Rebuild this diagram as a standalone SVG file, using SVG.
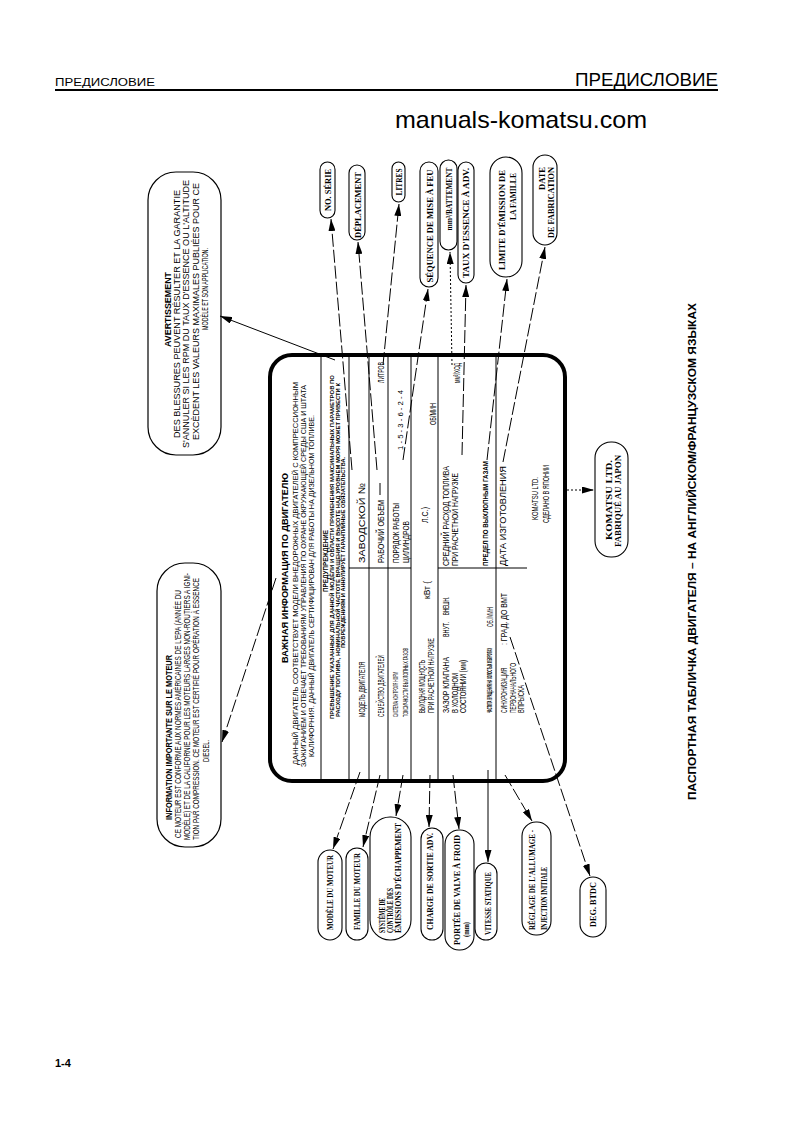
<svg xmlns="http://www.w3.org/2000/svg" width="793" height="1123" viewBox="0 0 793 1123">
<style>
text{font-family:"Liberation Sans",Arial,sans-serif;fill:#000}
.b{font-weight:bold}
.sf{font-family:"Liberation Serif","Times New Roman",serif;font-weight:bold;font-size:8.5px}
.bub{fill:#fff;stroke:#000;stroke-width:1.1}
.box{fill:#fff;stroke:#000;stroke-width:1.2}
.plate{fill:#fff;stroke:#000;stroke-width:4}
.rl{stroke:#000;stroke-width:1;fill:none}
.cn{stroke:#000;stroke-width:1;fill:none;stroke-dasharray:13 3}
.cs{stroke:#000;stroke-width:1;fill:none}
.cd{stroke:#000;stroke-width:1;fill:none;stroke-dasharray:2 2}
.f9{font-size:9px}.f8{font-size:9.5px}.f7{font-size:7.5px}.f6{font-size:7px}.f5{font-size:5.5px}.fs{font-size:7.5px}
</style>
<defs>
<marker id="ah" markerUnits="userSpaceOnUse" markerWidth="12" markerHeight="7" refX="12" refY="3.5" orient="auto" viewBox="0 0 12 7"><path d="M0,0L12,3.5L0,7z" fill="#000"/></marker>
</defs>
<rect width="793" height="1123" fill="#fff"/>
<g id="header">
<text x="55" y="86" font-size="11" textLength="100" lengthAdjust="spacingAndGlyphs">ПРЕДИСЛОВИЕ</text>
<text x="575" y="86" font-size="18" textLength="143" lengthAdjust="spacingAndGlyphs">ПРЕДИСЛОВИЕ</text>
<line x1="55" y1="90" x2="718" y2="90" stroke="#000" stroke-width="2"/>
<text x="395" y="128" font-size="24" textLength="252" lengthAdjust="spacingAndGlyphs">manuals-komatsu.com</text>
<text x="55" y="1067" font-size="11" class="b">1-4</text>
</g>
<g transform="translate(0,1123) rotate(-90)">
<g id="caption"><text x="323" y="696" class="b" font-size="10" textLength="497" lengthAdjust="spacingAndGlyphs">ПАСПОРТНАЯ ТАБЛИЧКА ДВИГАТЕЛЯ – НА АНГЛИЙСКОМ/ФРАНЦУЗСКОМ ЯЗЫКАХ</text></g>
<g id="avertissement">
<rect class="box" x="668" y="148" width="283" height="73" rx="28"/>
<text x="776" y="171" class="b f9" textLength="75" lengthAdjust="spacingAndGlyphs">AVERTISSEMENT</text>
<text x="685" y="179.5" class="f9" textLength="248" lengthAdjust="spacingAndGlyphs">DES BLESSURES PEUVENT RÉSULTER ET LA GARANTIE</text>
<text x="675" y="189" class="f9" textLength="268" lengthAdjust="spacingAndGlyphs">S'ANNULER SI LES RPM DU TAUX D'ESSENCE OU L'ALTITUDE</text>
<text x="683" y="198.5" class="f9" textLength="257" lengthAdjust="spacingAndGlyphs">EXCÈDENT LES VALEURS MAXIMALES PUBLIÉES POUR CE</text>
<text x="793" y="208" class="f9" textLength="82" lengthAdjust="spacingAndGlyphs">MODÈLE ET SON APPLICATION.</text>
</g>
<g id="information">
<rect class="box" x="276" y="157" width="284" height="64" rx="28"/>
<text x="303" y="172" class="b f9" textLength="165" lengthAdjust="spacingAndGlyphs">INFORMATION IMPORTANTE SUR LE MOTEUR</text>
<text x="285" y="180.5" class="f9" textLength="248" lengthAdjust="spacingAndGlyphs">CE MOTEUR EST CONFORME AUX NORMES AMÉRICAINES DE L'EPA (ANNÉE DU</text>
<text x="283" y="189.5" class="f9" textLength="267" lengthAdjust="spacingAndGlyphs">MODÈLE) ET DE LA CALIFORNIE POUR LES MOTEURS LARGES NON-ROUTIERS A IGNI-</text>
<text x="283" y="198.5" class="f9" textLength="262" lengthAdjust="spacingAndGlyphs">TION PAR COMPRESSION. CE MOTEUR EST CERTIFIÉ POUR OPÉRATION À ESSENCE</text>
<text x="361" y="209" class="f9" textLength="22" lengthAdjust="spacingAndGlyphs">DIESEL.</text>
</g>
<g id="plate">
<rect class="plate" x="342" y="270" width="426" height="295" rx="22"/>
<text x="460" y="288" class="b f9" textLength="190" lengthAdjust="spacingAndGlyphs">ВАЖНАЯ ИНФОРМАЦИЯ ПО ДВИГАТЕЛЮ</text>
<text x="358" y="298" class="f7" textLength="383" lengthAdjust="spacingAndGlyphs">ДАННЫЙ ДВИГАТЕЛЬ СООТВЕТСТВУЕТ МОДЕЛИ ВНЕДОРОЖНЫХ ДВИГАТЕЛЕЙ С КОМПРЕССИОННЫМ</text>
<text x="356" y="306" class="f7" textLength="382" lengthAdjust="spacingAndGlyphs">ЗАЖИГАНИЕМ И ОТВЕЧАЕТ ТРЕБОВАНИЯМ УПРАВЛЕНИЯ ПО ОХРАНЕ ОКРУЖАЮЩЕЙ СРЕДЫ США И ШТАТА</text>
<text x="366" y="314" class="f7" textLength="342" lengthAdjust="spacingAndGlyphs">КАЛИФОРНИЯ. ДАННЫЙ ДВИГАТЕЛЬ СЕРТИФИЦИРОВАН ДЛЯ РАБОТЫ НА ДИЗЕЛЬНОМ ТОПЛИВЕ.</text>
<line class="rl" x1="342" y1="321" x2="768" y2="321"/>
<text x="531" y="328" class="b" font-size="6.5" textLength="62" lengthAdjust="spacingAndGlyphs">ПРЕДУПРЕЖДЕНИЕ</text>
<text x="404" y="334" class="b f5" textLength="344" lengthAdjust="spacingAndGlyphs">ПРЕВЫШЕНИЕ УКАЗАННЫХ ДЛЯ ДАННОЙ МОДЕЛИ И ОБЛАСТИ ПРИМЕНЕНИЯ МАКСИМАЛЬНЫХ ПАРАМЕТРОВ ПО</text>
<text x="406" y="339.5" class="b f5" textLength="334" lengthAdjust="spacingAndGlyphs">РАСХОДУ ТОПЛИВА, НОМИНАЛЬНОЙ ЧАСТОТЕ ВРАЩЕНИЯ И ВЫСОТЕ НАД УРОВНЕМ МОРЯ МОЖЕТ ПРИВЕСТИ К</text>
<text x="475" y="345" class="b f5" textLength="191" lengthAdjust="spacingAndGlyphs">ПОВРЕЖДЕНИЯМ И АННУЛИРУЕТ ГАРАНТИЙНЫЕ ОБЯЗАТЕЛЬСТВА.</text>
<line class="rl" x1="342" y1="349" x2="768" y2="349"/>
<line class="rl" x1="342" y1="369" x2="768" y2="369"/>
<line class="rl" x1="342" y1="388" x2="768" y2="388"/>
<line class="rl" x1="342" y1="411" x2="768" y2="411"/>
<line class="rl" x1="342" y1="438" x2="768" y2="438"/>
<line class="rl" x1="342" y1="496" x2="768" y2="496"/>
<line class="rl" x1="555" y1="349" x2="555" y2="411"/>
<line class="rl" x1="555" y1="438" x2="555" y2="527"/>
<text x="406" y="365" class="f8" textLength="55" lengthAdjust="spacingAndGlyphs">МОДЕЛЬ ДВИГАТЕЛЯ</text>
<text x="560" y="365" class="f8" textLength="80" lengthAdjust="spacingAndGlyphs">ЗАВОДСКОЙ №</text>
<text x="406" y="384" class="f8" textLength="62" lengthAdjust="spacingAndGlyphs">СЕМЕЙСТВО ДВИГАТЕЛЕЙ</text>
<text x="560" y="384" class="f8" textLength="63" lengthAdjust="spacingAndGlyphs">РАБОЧИЙ ОБЪЕМ</text>
<line class="rl" x1="628" y1="380" x2="640" y2="380"/>
<text x="740" y="384" class="f8" textLength="21" lengthAdjust="spacingAndGlyphs">ЛИТРОВ</text>
<text x="406" y="398" class="fs" textLength="45" lengthAdjust="spacingAndGlyphs">СИСТЕМА КОНТРОЛЯ НОРМ</text>
<text x="406" y="407.5" class="fs" textLength="69" lengthAdjust="spacingAndGlyphs">ТОКСИЧНОСТИ ВЫХЛОПНЫХ ГАЗОВ</text>
<text x="560" y="398.5" class="f8" textLength="60" lengthAdjust="spacingAndGlyphs">ПОРЯДОК РАБОТЫ</text>
<text x="560" y="408.5" class="f8" textLength="42" lengthAdjust="spacingAndGlyphs">ЦИЛИНДРОВ</text>
<text x="673" y="403" class="f7" textLength="60" lengthAdjust="spacingAndGlyphs">1 - 5 - 3 - 6 - 2 - 4</text>
<text x="410" y="425" class="f8" textLength="53" lengthAdjust="spacingAndGlyphs">ВЫХОДНАЯ МОЩНОСТЬ</text>
<text x="410" y="434" class="f8" textLength="75" lengthAdjust="spacingAndGlyphs">ПРИ РАСЧЕТНОЙ НАГРУЗКЕ</text>
<text x="524" y="430" class="f8" textLength="18" lengthAdjust="spacingAndGlyphs">кВт (</text>
<text x="600" y="428" class="f8" textLength="16" lengthAdjust="spacingAndGlyphs">Л.С.)</text>
<text x="698" y="436" class="f8" textLength="22" lengthAdjust="spacingAndGlyphs">ОБ/МИН</text>
<text x="410" y="449" class="f8" textLength="56" lengthAdjust="spacingAndGlyphs">ЗАЗОР КЛАПАНА</text>
<text x="410" y="457.5" class="f8" textLength="40" lengthAdjust="spacingAndGlyphs">В ХОЛОДНОМ</text>
<text x="410" y="466" class="f8" textLength="53" lengthAdjust="spacingAndGlyphs">СОСТОЯНИИ (мм)</text>
<text x="486" y="449" class="f8" textLength="15" lengthAdjust="spacingAndGlyphs">ВНУТ.</text>
<text x="508" y="449" class="f8" textLength="18" lengthAdjust="spacingAndGlyphs">ВНЕШН.</text>
<text x="557" y="449" class="f8" textLength="100" lengthAdjust="spacingAndGlyphs">СРЕДНИЙ РАСХОД ТОПЛИВА</text>
<text x="557" y="458" class="f8" textLength="93" lengthAdjust="spacingAndGlyphs">ПРИ РАСЧЕТНОЙ НАГРУЗКЕ</text>
<text x="740" y="460" class="f8" textLength="20" lengthAdjust="spacingAndGlyphs">мм³/ХОД</text>
<text x="410" y="492" class="b f6" textLength="65" lengthAdjust="spacingAndGlyphs">ЧАСТОТА ВРАЩЕНИЯ НА ХОЛОСТЫХ ОБОРОТАХ</text>
<text x="496" y="493" class="f8" textLength="20" lengthAdjust="spacingAndGlyphs">ОБ./МИН</text>
<text x="557" y="488" class="b fs" textLength="105" lengthAdjust="spacingAndGlyphs">ПРЕДЕЛ ПО ВЫХЛОПНЫМ ГАЗАМ</text>
<text x="410" y="507" class="f8" textLength="45" lengthAdjust="spacingAndGlyphs">СИНХРОНИЗАЦИЯ</text>
<text x="410" y="515.5" class="f8" textLength="50" lengthAdjust="spacingAndGlyphs">ПЕРВОНАЧАЛЬНОГО</text>
<text x="410" y="524" class="f8" textLength="28" lengthAdjust="spacingAndGlyphs">ВПРЫСКА</text>
<text x="478" y="507" class="f8" textLength="52" lengthAdjust="spacingAndGlyphs">:  ГРАД. ДО ВМТ</text>
<text x="557" y="506" class="f8" textLength="100" lengthAdjust="spacingAndGlyphs">ДАТА ИЗГОТОВЛЕНИЯ</text>
<text x="603" y="538" class="f8" textLength="43" lengthAdjust="spacingAndGlyphs">KOMATSU LTD.</text>
<text x="600" y="549" class="f8" textLength="58" lengthAdjust="spacingAndGlyphs">СДЕЛАНО В ЯПОНИИ</text>
</g>
<g id="no-serie"><rect class="bub" x="905" y="320" width="56" height="15" rx="7.5"/><text class="sf" x="933" y="331" text-anchor="middle" textLength="42" lengthAdjust="spacingAndGlyphs">NO. SÉRIE</text></g>
<g id="deplacement"><rect class="bub" x="883" y="349" width="75" height="16" rx="8"/><text class="sf" x="918" y="361" text-anchor="middle" textLength="66" lengthAdjust="spacingAndGlyphs">DÉPLACEMENT</text></g>
<g id="litres"><rect class="bub" x="921" y="392" width="40" height="13" rx="6.5"/><text class="sf" x="941" y="402" text-anchor="middle" textLength="27" lengthAdjust="spacingAndGlyphs">LITRES</text></g>
<g id="sequence"><rect class="bub" x="836" y="420" width="125" height="18" rx="9"/><text class="sf" x="897" y="433" text-anchor="middle" textLength="113" lengthAdjust="spacingAndGlyphs">SÉQUENCE DE MISE À FEU</text></g>
<g id="mm3"><rect class="bub" x="873" y="440" width="90" height="17" rx="8.5"/><text class="sf" x="924" y="452" text-anchor="middle" textLength="63" lengthAdjust="spacingAndGlyphs">mm³/BATTEMENT</text></g>
<g id="taux"><rect class="bub" x="840" y="458" width="121" height="16" rx="8"/><text class="sf" x="900" y="469" text-anchor="middle" textLength="110" lengthAdjust="spacingAndGlyphs">TAUX D'ESSENCE À ADV.</text></g>
<g id="limite"><rect class="bub" x="846" y="490" width="120" height="32" rx="16"/><text class="sf" x="953" y="505" text-anchor="end" textLength="100" lengthAdjust="spacingAndGlyphs">LIMITE D'ÉMISSION DE</text><text class="sf" x="950" y="516" text-anchor="end" textLength="47" lengthAdjust="spacingAndGlyphs">LA FAMILLE</text></g>
<g id="date"><rect class="bub" x="878" y="533" width="90" height="24" rx="12"/><text class="sf" x="956" y="545" text-anchor="end" textLength="23" lengthAdjust="spacingAndGlyphs">DATE</text><text class="sf" x="956" y="554" text-anchor="end" textLength="71" lengthAdjust="spacingAndGlyphs">DE FABRICATION</text></g>
<g id="komatsu"><rect class="bub" x="566" y="595" width="115" height="33" rx="16"/><text class="sf" x="623" y="612" text-anchor="middle" textLength="80" lengthAdjust="spacingAndGlyphs">KOMATSU LTD.</text><text class="sf" x="622" y="621" text-anchor="middle" textLength="92" lengthAdjust="spacingAndGlyphs">FABRIQUÉ AU JAPON</text></g>
<g id="modele"><rect class="bub" x="183" y="318" width="90" height="24" rx="12"/><text class="sf" x="193" y="333" textLength="75" lengthAdjust="spacingAndGlyphs">MODÈLE DU MOTEUR</text></g>
<g id="famille"><rect class="bub" x="183" y="346" width="92" height="22" rx="11"/><text class="sf" x="193" y="360" textLength="77" lengthAdjust="spacingAndGlyphs">FAMILLE DU MOTEUR</text></g>
<g id="systeme"><rect class="bub" x="183" y="370" width="123" height="41" rx="20"/><text class="sf" x="190" y="385" textLength="35" lengthAdjust="spacingAndGlyphs">SYSTÈME DE</text><text class="sf" x="190" y="393" textLength="45" lengthAdjust="spacingAndGlyphs">CONTRÔLE DES</text><text class="sf" x="190" y="401" textLength="110" lengthAdjust="spacingAndGlyphs">ÉMISSIONS D'ÉCHAPPEMENT</text></g>
<g id="charge"><rect class="bub" x="183" y="421" width="112" height="22" rx="11"/><text class="sf" x="193" y="433" textLength="97" lengthAdjust="spacingAndGlyphs">CHARGE DE SORTIE ADV.</text></g>
<g id="portee"><rect class="bub" x="173" y="445" width="120" height="29" rx="14"/><text class="sf" x="178" y="460" textLength="110" lengthAdjust="spacingAndGlyphs">PORTÉE DE VALVE À FROID</text><text class="sf" x="186" y="469" textLength="15" lengthAdjust="spacingAndGlyphs">(mm)</text></g>
<g id="vitesse"><rect class="bub" x="183" y="475" width="77" height="22" rx="11"/><text class="sf" x="188" y="491" textLength="63" lengthAdjust="spacingAndGlyphs">VITESSE STATIQUE</text></g>
<g id="reglage"><rect class="bub" x="188" y="522" width="113" height="29" rx="14"/><text class="sf" x="193" y="535" textLength="100" lengthAdjust="spacingAndGlyphs">RÉGLAGE DE L'ALLUMAGE -</text><text class="sf" x="193" y="547" textLength="63" lengthAdjust="spacingAndGlyphs">INJECTION INITIALE</text></g>
<g id="deg"><rect class="bub" x="186" y="580" width="60" height="26" rx="13"/><text class="sf" x="196" y="596" textLength="45" lengthAdjust="spacingAndGlyphs">DEG. BTDC</text></g>
</g>
<g id="connectors">
<path class="cs" d="M335,360L220,316" marker-end="url(#ah)"/>
<path class="cn" d="M276,578L222,742" marker-end="url(#ah)"/>
<path class="cn" d="M352,470L331,219" marker-end="url(#ah)"/>
<path class="cn" d="M377,470L358,242" marker-end="url(#ah)"/>
<path class="cn" d="M383,365L399,204" marker-end="url(#ah)"/>
<path class="cn" d="M403,460L428,289" marker-end="url(#ah)"/>
<path class="cd" d="M452,365L450,252" marker-end="url(#ah)"/>
<path class="cn" d="M462,455L466,285" marker-end="url(#ah)"/>
<path class="cn" d="M487,460L507,279" marker-end="url(#ah)"/>
<path class="cn" d="M503,462L545,247" marker-end="url(#ah)"/>
<path class="cd" d="M567,490L594,490" marker-end="url(#ah)"/>
<path class="cn" d="M360,772L333,849" marker-end="url(#ah)"/>
<path class="cn" d="M380,775L363,847" marker-end="url(#ah)"/>
<path class="cn" d="M403,775L396,816" marker-end="url(#ah)"/>
<path class="cn" d="M430,775L429,827" marker-end="url(#ah)"/>
<path class="cn" d="M453,775L459,829" marker-end="url(#ah)"/>
<path class="cs" d="M488,770L488,862" marker-end="url(#ah)"/>
<path class="cn" d="M505,775L532,821" marker-end="url(#ah)"/>
<path class="cn" d="M510,637L590,876" marker-end="url(#ah)"/>
</g>
</svg>
